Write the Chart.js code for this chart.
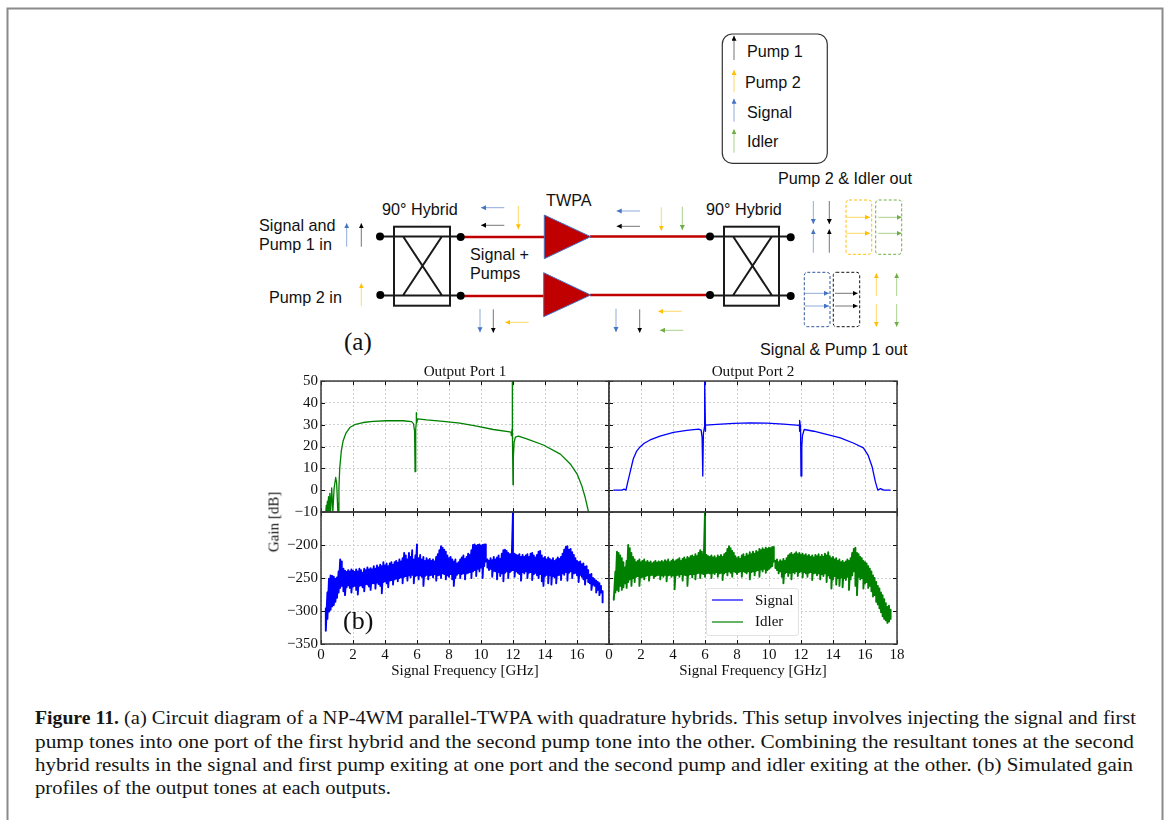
<!DOCTYPE html>
<html><head><meta charset="utf-8">
<script src="https://cdn.jsdelivr.net/npm/chart.js@4"></script>
<style>
html,body{margin:0;padding:0;background:#fff;width:1170px;height:820px;overflow:hidden}
canvas{position:absolute}
svg{position:absolute;left:0;top:0}
.sans{font-family:"Liberation Sans",Arial,sans-serif;font-size:16.2px;fill:#111}
.cap{font-family:"Liberation Serif",serif;font-size:19px;fill:#151515}
.lab{position:absolute;font-family:"Liberation Serif",serif;color:#111;white-space:nowrap}
#legendBox{position:absolute;left:706px;top:588px;width:93px;height:48px;box-sizing:border-box;border:1px solid #e2e2e2;border-radius:3px;background:rgba(255,255,255,.85)}
</style></head><body>
<svg width="1170" height="820" xmlns="http://www.w3.org/2000/svg">
<defs>
<marker id="mk" markerUnits="userSpaceOnUse" markerWidth="6" markerHeight="6" refX="5" refY="2.5" orient="auto"><path d="M0,0L5,2.5L0,5z" fill="#000"/></marker>
<marker id="mo" markerUnits="userSpaceOnUse" markerWidth="6" markerHeight="6" refX="5" refY="2.5" orient="auto"><path d="M0,0L5,2.5L0,5z" fill="#ffc000"/></marker>
<marker id="mb" markerUnits="userSpaceOnUse" markerWidth="6" markerHeight="6" refX="5" refY="2.5" orient="auto"><path d="M0,0L5,2.5L0,5z" fill="#4472c4"/></marker>
<marker id="mg" markerUnits="userSpaceOnUse" markerWidth="6" markerHeight="6" refX="5" refY="2.5" orient="auto"><path d="M0,0L5,2.5L0,5z" fill="#70ad47"/></marker>
</defs>
<path d="M7.5,820V8.5H1162.5V820" fill="none" stroke="#8a8a8a" stroke-width="2"/>
<rect x="722.3" y="34" width="105" height="129.3" rx="10" fill="none" stroke="#333" stroke-width="1.2"/>
<g>
<text x="747" y="57" class="sans">Pump 1</text><text x="745" y="87.5" class="sans">Pump 2</text>
<text x="747" y="117.5" class="sans">Signal</text><text x="747" y="147" class="sans">Idler</text>
<text x="778" y="184" class="sans">Pump 2 &amp; Idler out</text>
<text x="706" y="215" class="sans">90° Hybrid</text>
<text x="382" y="215" class="sans">90° Hybrid</text>
<text x="546" y="206" class="sans">TWPA</text>
<text x="259" y="231" class="sans">Signal and</text><text x="259" y="250" class="sans">Pump 1 in</text>
<text x="269" y="302.5" class="sans">Pump 2 in</text>
<text x="470" y="260" class="sans">Signal +</text><text x="470" y="279" class="sans">Pumps</text>
<text x="760" y="355" class="sans">Signal &amp; Pump 1 out</text>
</g>
<!-- red transmission lines and amplifiers -->
<g stroke="#c00000" stroke-width="2.6" fill="none">
<path d="M462,237H545M462,296H545M590,236.5H708M590,295H708"/>
</g>
<path d="M544.3,215V258.7L590.7,236.7z" fill="#c00000" stroke="#4472c4"/>
<path d="M543.7,272.7V316.7L590.7,295z" fill="#c00000" stroke="#4472c4"/>
<!-- hybrids -->
<g stroke="#1a1a1a" stroke-width="2" fill="none">
<rect x="394" y="226.7" width="56" height="79"/>
<rect x="724" y="226.7" width="55" height="79"/>
<path d="M380,236.5H460.7M380,295.5H460.7M403.3,236.7L441.7,295M441.7,236.7L403.3,295"/>
<path d="M710,236.5H790.7M710,295.5H790.7M733.3,236.7L771.7,295M771.7,236.7L733.3,295"/>
</g>
<g fill="#000"><circle cx="380" cy="236.4" r="4"/><circle cx="380.3" cy="295" r="4"/><circle cx="460.7" cy="237" r="4"/><circle cx="460.7" cy="295.7" r="4"/><circle cx="710" cy="236.4" r="4"/><circle cx="710" cy="295" r="4"/><circle cx="790.7" cy="237.3" r="4"/><circle cx="790.7" cy="296" r="4"/></g>
<!-- dashed output boxes -->
<g fill="none" stroke-width="1" stroke-dasharray="3 2">
<rect x="846" y="200" width="25.7" height="54.3" rx="3" stroke="#ffc000"/>
<rect x="875.7" y="200" width="26" height="54.3" rx="3" stroke="#70ad47"/>
<rect x="804.3" y="272.3" width="25.7" height="54.4" rx="3" stroke="#2f5597"/>
<rect x="833.3" y="272.3" width="26.4" height="54.4" rx="3" stroke="#111"/>
</g>
<!-- tone arrows -->
<g stroke="#666" stroke-width="0.9" marker-end="url(#mk)">
<line x1="361.3" y1="246.7" x2="361.3" y2="223.3"/><line x1="504.3" y1="225.3" x2="481" y2="225.3"/>
<line x1="493.3" y1="309.3" x2="493.3" y2="332.7"/><line x1="734" y1="60" x2="734" y2="35.7"/>
<line x1="640" y1="226.3" x2="616.7" y2="226.3"/><line x1="639.7" y1="309.3" x2="639.7" y2="332.7"/>
<line x1="829.3" y1="201" x2="829.3" y2="224"/><line x1="829.3" y1="252.7" x2="829.3" y2="229.3"/>
<line x1="835" y1="293.3" x2="857.7" y2="293.3"/><line x1="835" y1="306" x2="857.7" y2="306"/>
</g>
<g stroke="#ffd966" stroke-width="1" marker-end="url(#mo)">
<line x1="361.3" y1="306" x2="361.3" y2="283.3"/><line x1="518.3" y1="206" x2="518.3" y2="229.3"/>
<line x1="528.7" y1="322.3" x2="505.3" y2="322.3"/><line x1="734" y1="92.3" x2="734" y2="70"/>
<line x1="661.3" y1="207.3" x2="661.3" y2="230.7"/><line x1="681.7" y1="311.3" x2="658.3" y2="311.3"/>
<line x1="846" y1="217.3" x2="870" y2="217.3"/><line x1="846" y1="233.3" x2="870" y2="233.3"/>
<line x1="876.3" y1="296" x2="876.3" y2="273.3"/><line x1="876.3" y1="304" x2="876.3" y2="326.7"/>
</g>
<g stroke="#8faadc" stroke-width="1" marker-end="url(#mb)">
<line x1="346.7" y1="246.7" x2="346.7" y2="223.3"/><line x1="504.3" y1="207.7" x2="481" y2="207.7"/>
<line x1="480" y1="309" x2="480" y2="332.3"/><line x1="734" y1="121.7" x2="734" y2="98.7"/>
<line x1="640" y1="211" x2="616.7" y2="211"/><line x1="616" y1="308.7" x2="616" y2="332"/>
<line x1="813.3" y1="201" x2="813.3" y2="224"/><line x1="813.3" y1="252.7" x2="813.3" y2="229.3"/>
<line x1="805" y1="293.3" x2="829" y2="293.3"/><line x1="805" y1="306" x2="829" y2="306"/>
</g>
<g stroke="#a9d18e" stroke-width="1" marker-end="url(#mg)">
<line x1="734" y1="152.7" x2="734" y2="129.3"/><line x1="682.3" y1="206.7" x2="682.3" y2="230"/>
<line x1="683.3" y1="330.3" x2="660" y2="330.3"/><line x1="878.3" y1="217.3" x2="901.7" y2="217.3"/>
<line x1="878.3" y1="233.3" x2="901.7" y2="233.3"/><line x1="896.7" y1="296" x2="896.7" y2="273.3"/>
<line x1="896.7" y1="304" x2="896.7" y2="326.7"/>
</g>
<!-- caption -->
<text class="cap" x="35" y="724" font-weight="bold" textLength="84" lengthAdjust="spacingAndGlyphs">Figure 11.</text>
<text class="cap" x="124" y="724" textLength="1012" lengthAdjust="spacingAndGlyphs">(a) Circuit diagram of a NP-4WM parallel-TWPA with quadrature hybrids. This setup involves injecting the signal and first</text>
<text class="cap" x="35" y="748" textLength="1099" lengthAdjust="spacingAndGlyphs">pump tones into one port of the first hybrid and the second pump tone into the other. Combining the resultant tones at the second</text>
<text class="cap" x="35" y="771" textLength="1098" lengthAdjust="spacingAndGlyphs">hybrid results in the signal and first pump exiting at one port and the second pump and idler exiting at the other. (b) Simulated gain</text>
<text class="cap" x="35" y="794" textLength="356" lengthAdjust="spacingAndGlyphs">profiles of the output tones at each outputs.</text>
</svg>

<canvas id="topL" style="left:262px;top:362px" width="350" height="168"></canvas>
<canvas id="topR" style="left:590px;top:362px" width="326" height="168"></canvas>
<canvas id="botL" style="left:262px;top:500px" width="350" height="180"></canvas>
<canvas id="botR" style="left:590px;top:500px" width="326" height="180"></canvas>

<div class="lab" style="left:344px;top:328px;font-size:25px">(a)</div>
<div class="lab" style="left:343px;top:606px;font-size:26px">(b)</div>
<div class="lab" style="left:274px;top:522px;font-size:15px;transform:translate(-50%,-50%) rotate(-90deg)">Gain [dB]</div>
<div id="legendBox"></div>
<svg width="1170" height="820" style="pointer-events:none"><line x1="712" y1="600" x2="743" y2="600" stroke="#0000ff" stroke-width="1.2"/><line x1="712" y1="622" x2="743" y2="622" stroke="#008000" stroke-width="1.2"/></svg>
<div class="lab" style="left:755px;top:592px;font-size:15px">Signal</div>
<div class="lab" style="left:755px;top:613px;font-size:15px">Idler</div>

<script>
const xTickValues=[0,2,4,6,8,10,12,14,16,18];
const topGainTicks=[-10,0,10,20,30,40,50];
const bottomGainTicks=[-350,-300,-250,-200];
const seriesNames=["Signal","Idler"];

// Output Port 1, top: idler gain curve
const port1IdlerFreq=[0.3,0.33,0.36,0.4,0.43,0.47,0.5,0.55,0.6,0.67,0.74,0.82,0.92,0.98,1.03,1.05,1.08,1.12,1.17,1.27,1.38,1.55,1.8,2.1,2.63,3.25,4.1,5.13,5.66,5.78,5.85,5.88,5.92,5.95,5.95,5.97,6.05,6.6,7.64,8.68,9.73,10.77,11.8,11.88,11.9,11.94,11.95,11.97,12,12.02,12.07,12.15,12.34,12.86,13.9,14.96,15.58,16,16.3,16.5,16.72];
const port1IdlerGain=[-10,-7,-10,-5,-10,-3,-10,-1.5,-10,1,-10,1,5.8,3,-6,-10,-10,1,10,18,22.5,26,28.7,30,31,31.5,31.8,31.8,31.4,30.5,27,8.5,28,30.5,35.5,30.5,32.7,32.2,31.5,30.7,29.3,27.8,26.7,26.5,25,28,50,28,2.5,15,22,24.3,24.8,23.5,20.7,16.5,12,7.5,2,-3,-10];

// Output Port 2, top: signal gain curve
const port2SignalFreq=[0.27,0.8,0.94,1.06,1.15,1.32,1.52,1.73,1.94,2.2,2.57,3.19,4.03,4.86,5.6,5.76,5.82,5.86,5.9,5.97,5.98,6.03,6.03,6.74,7.79,8.83,9.87,10.9,11.9,11.91,11.92,11.97,12.0,12.05,12.09,12.2,12.8,13.6,14.46,15.3,15.9,16.2,16.45,16.65,16.8,16.97,17.18,17.6];
const port2SignalGain=[0,0,0.5,0,3,8.3,14.4,17.9,19.8,21.5,23,24.8,26.5,27.4,28,27.5,24,6.5,26,29,50,27,29.8,30.1,30.6,30.8,30.7,30.3,29.7,27,32,29,6.5,20,25,27.8,27,25.6,24,21.5,19.4,15.9,10.6,3.8,0,0.7,0,0];

// Bottom row: upper and lower edges of the noisy traces
const bandFreq=[0.3,0.4,0.5,0.6,0.7,0.8,0.9,1.0,1.1,1.2,
1.3,1.4,1.5,1.6,1.7,1.8,1.9,2.0,2.1,2.2,
2.3,2.4,2.5,2.6,2.7,2.8,2.9,3.0,3.1,3.2,
3.3,3.4,3.5,3.6,3.7,3.8,3.9,4.0,4.1,4.2,
4.3,4.4,4.5,4.6,4.7,4.8,4.9,5.0,5.1,5.2,
5.3,5.4,5.5,5.6,5.7,5.8,5.9,6.0,6.1,6.2,
6.3,6.4,6.5,6.6,6.7,6.8,6.9,7.0,7.1,7.2,
7.3,7.4,7.5,7.6,7.7,7.8,7.9,8.0,8.1,8.2,
8.3,8.4,8.5,8.6,8.7,8.8,8.9,9.0,9.1,9.2,
9.3,9.4,9.5,9.6,9.7,9.8,9.9,10.0,10.1,10.2,
10.3,10.4,10.5,10.6,10.7,10.8,10.9,11.0,11.1,11.2,
11.3,11.4,11.5,11.6,11.7,11.8,11.9,12.0,12.1,12.2,
12.3,12.4,12.5,12.6,12.7,12.8,12.9,13.0,13.1,13.2,
13.3,13.4,13.5,13.6,13.7,13.8,13.9,14.0,14.1,14.2,
14.3,14.4,14.5,14.6,14.7,14.8,14.9,15.0,15.1,15.2,
15.3,15.4,15.5,15.6,15.7,15.8,15.9,16.0,16.1,16.2,
16.3,16.4,16.5,16.6,16.7,16.8,16.9,17.0,17.1,17.2,
17.3,17.4,17.5,17.6];
const port1SignalHigh=[-296,-272,-251,-246,-247,-248,-251,-249,-240,-222,
-225,-236,-239,-241,-238,-240,-237,-239,-241,-237,
-240,-236,-238,-242,-236,-238,-234,-237,-235,-237,
-232,-236,-231,-234,-230,-232,-226,-231,-228,-232,
-228,-226,-230,-226,-224,-227,-222,-225,-220,-212,
-216,-222,-212,-218,-208,-222,-216,-199,-220,-215,
-222,-218,-224,-220,-223,-221,-224,-222,-225,-218,
-214,-208,-202,-204,-207,-210,-216,-220,-218,-222,
-225,-222,-228,-226,-222,-219,-216,-221,-218,-213,
-215,-208,-200,-199,-201,-200,-199,-201,-200,-199,
-199,-222,-224,-220,-223,-218,-222,-219,-216,-221,
-213,-208,-207,-209,-212,-214,-213,-150,-213,-215,
-216,-214,-218,-215,-218,-216,-214,-218,-213,-212,
-216,-219,-215,-210,-209,-216,-220,-218,-222,-219,
-221,-223,-220,-224,-222,-219,-221,-218,-213,-207,
-203,-202,-207,-206,-211,-215,-220,-224,-226,-225,
-229,-228,-233,-232,-238,-245,-244,-250,-252,-254,
-256,-258,-262,-270];
const port1SignalLow=[-330,-312,-301,-298,-293,-291,-286,-280,-272,-265,
-262,-270,-276,-264,-261,-265,-272,-263,-262,-268,
-275,-262,-261,-264,-270,-259,-260,-263,-268,-258,
-258,-266,-257,-259,-262,-273,-256,-255,-258,-264,
-254,-253,-260,-252,-251,-255,-250,-249,-258,-248,
-247,-254,-246,-249,-245,-258,-247,-246,-252,-246,
-248,-262,-247,-245,-252,-246,-245,-249,-244,-254,
-246,-245,-250,-243,-244,-252,-246,-248,-244,-252,
-262,-250,-245,-243,-250,-244,-243,-252,-243,-242,
-241,-250,-240,-238,-247,-236,-240,-234,-250,-232,
-225,-234,-238,-236,-248,-239,-240,-252,-241,-247,
-243,-255,-242,-240,-250,-241,-239,-238,-248,-240,
-242,-244,-254,-241,-243,-240,-250,-242,-241,-253,
-244,-242,-246,-250,-244,-255,-262,-247,-245,-258,
-246,-260,-247,-249,-258,-246,-245,-253,-243,-245,
-241,-254,-242,-240,-250,-243,-242,-246,-256,-245,
-248,-252,-260,-250,-256,-258,-268,-260,-262,-272,
-268,-276,-272,-287];
const port2IdlerHigh=[-278,-240,-210,-212,-216,-220,-226,-234,-224,-200,
-205,-212,-218,-222,-226,-224,-222,-226,-224,-222,
-226,-224,-227,-225,-228,-226,-224,-227,-225,-226,
-224,-226,-223,-225,-222,-226,-224,-222,-225,-223,
-222,-220,-224,-221,-219,-222,-218,-220,-217,-216,
-218,-214,-217,-212,-208,-210,-214,-150,-215,-217,
-218,-216,-219,-217,-220,-216,-218,-215,-218,-214,
-212,-206,-202,-205,-209,-212,-217,-220,-218,-221,
-216,-214,-218,-213,-216,-211,-214,-210,-213,-209,
-211,-206,-208,-205,-207,-204,-206,-204,-205,-203,
-203,-224,-222,-226,-223,-225,-221,-224,-220,-216,
-214,-212,-215,-213,-211,-214,-212,-215,-213,-216,
-214,-217,-215,-218,-216,-219,-215,-217,-214,-218,
-215,-218,-213,-216,-211,-217,-220,-218,-222,-220,
-224,-222,-226,-224,-227,-225,-222,-224,-220,-212,
-206,-204,-212,-214,-218,-220,-224,-226,-228,-232,
-236,-240,-246,-250,-256,-262,-266,-272,-276,-282,
-288,-294,-292,-298];
const port2IdlerLow=[-283,-272,-268,-270,-262,-268,-264,-258,-265,-256,
-252,-262,-250,-256,-248,-247,-262,-249,-248,-252,
-247,-246,-254,-246,-245,-250,-247,-246,-245,-252,
-246,-248,-245,-255,-246,-245,-248,-246,-267,-246,
-245,-248,-244,-254,-245,-246,-262,-245,-244,-249,
-244,-252,-243,-242,-250,-243,-244,-248,-243,-242,
-243,-250,-242,-244,-241,-248,-243,-242,-253,-243,
-241,-246,-240,-242,-248,-240,-241,-244,-241,-240,
-248,-240,-241,-243,-240,-252,-241,-240,-246,-239,
-238,-248,-237,-240,-236,-242,-238,-236,-234,-232,
-225,-235,-238,-243,-240,-248,-258,-243,-241,-247,
-242,-252,-241,-243,-240,-247,-241,-240,-249,-241,
-243,-248,-242,-241,-253,-243,-242,-246,-243,-252,
-244,-247,-243,-256,-246,-250,-266,-252,-247,-260,
-250,-262,-249,-264,-250,-253,-248,-268,-252,-246,
-240,-262,-276,-248,-252,-250,-266,-258,-256,-265,
-262,-270,-278,-276,-286,-290,-296,-302,-308,-312,
-314,-318,-316,-312];

const pairs=(xs,ys)=>xs.map((x,i)=>({x,y:ys[i]}));
const trace=(xs,hi,lo)=>xs.flatMap((x,i)=>[{x,y:hi[i]},{x,y:lo[i]}]);
const fmt=v=>v<0?'\u2212'+Math.abs(v):String(v);
const serif='"Liberation Serif",serif';

const framePlugin={id:'frameTicks',afterDatasetsDraw(c){
  const {ctx,chartArea:a,scales:{x,y}}=c; const n=4;
  ctx.save();
  ctx.strokeStyle='#111';ctx.lineWidth=1;ctx.beginPath();
  x.ticks.forEach(t=>{const p=Math.round(x.getPixelForValue(t.value))+.5;ctx.moveTo(p,a.top);ctx.lineTo(p,a.top+n);ctx.moveTo(p,a.bottom);ctx.lineTo(p,a.bottom-n);});
  y.ticks.forEach(t=>{const p=Math.round(y.getPixelForValue(t.value))+.5;ctx.moveTo(a.left,p);ctx.lineTo(a.left+n,p);ctx.moveTo(a.right,p);ctx.lineTo(a.right-n,p);});
  ctx.stroke();
  ctx.strokeStyle='#3a3a3a';ctx.lineWidth=1.5;ctx.strokeRect(a.left,a.top,a.right-a.left,a.bottom-a.top);
  ctx.restore();
}};

function panel(id,o){
  const ctx=document.getElementById(id);
  return new Chart(ctx,{type:'line',
    data:{datasets:[{label:o.label,data:o.data,borderColor:o.color,borderWidth:o.lw,borderJoinStyle:'round',pointRadius:0,tension:0,fill:false}]},
    options:{responsive:false,animation:false,devicePixelRatio:1,
      layout:{padding:o.padding},
      plugins:{legend:{display:false},tooltip:{enabled:false},
        title:{display:!!o.title,text:o.title,fullSize:false,color:'#111',font:{family:serif,size:15.2,weight:'normal',lineHeight:1.2},padding:{top:0.4,bottom:0.4}}},
      scales:{
        x:{type:'linear',min:0,max:18,
          afterBuildTicks:s=>{s.ticks=xTickValues.map(v=>({value:v}));},
          afterFit:s=>{s.height=o.xh;s.paddingLeft=0;s.paddingRight=0;},
          grid:{color:'#cfcfcf',drawTicks:false},border:{display:false,dash:[2,2]},
          ticks:{display:o.xLabels,autoSkip:false,maxRotation:0,padding:2,color:'#111',font:{family:serif,size:15},
            callback:v=>(v===18&&o.hideLast)?'':String(v)},
          title:{display:o.xLabels,text:'Signal Frequency [GHz]',color:'#111',font:{family:serif,size:15},padding:{top:0,bottom:0}}},
        y:{type:'linear',min:o.min,max:o.max,
          afterBuildTicks:s=>{s.ticks=o.ticks.map(v=>({value:v}));},
          afterFit:s=>{s.width=o.yw;s.paddingTop=0;s.paddingBottom=0;},
          grid:{color:'#cfcfcf',drawTicks:false},border:{display:false,dash:[2,2]},
          ticks:{display:o.yLabels,padding:3,color:'#111',font:{family:serif,size:15},callback:fmt}}
      }},
    plugins:[framePlugin]});
}
const GREEN='#008000',BLUE='#0000ff';
panel('topL',{title:'Output Port 1',label:seriesNames[1],data:pairs(port1IdlerFreq,port1IdlerGain),color:GREEN,lw:1.3,
  padding:{right:3,bottom:18},xh:0,yw:59,min:-10,max:50,ticks:topGainTicks,xLabels:false,yLabels:true});
panel('topR',{title:'Output Port 2',label:seriesNames[0],data:pairs(port2SignalFreq,port2SignalGain),color:BLUE,lw:1.3,
  padding:{right:19,bottom:18},xh:0,yw:19,min:-10,max:50,ticks:topGainTicks,xLabels:false,yLabels:false});
panel('botL',{label:seriesNames[0],data:trace(bandFreq,port1SignalHigh,port1SignalLow),color:BLUE,lw:1.9,
  padding:{right:3,top:12},xh:36,yw:59,min:-350,max:-150,ticks:bottomGainTicks,xLabels:true,yLabels:true,hideLast:true});
panel('botR',{label:seriesNames[1],data:trace(bandFreq,port2IdlerHigh,port2IdlerLow),color:GREEN,lw:1.9,
  padding:{right:19,top:12},xh:36,yw:19,min:-350,max:-150,ticks:bottomGainTicks,xLabels:true,yLabels:false});
</script>
</body></html>
